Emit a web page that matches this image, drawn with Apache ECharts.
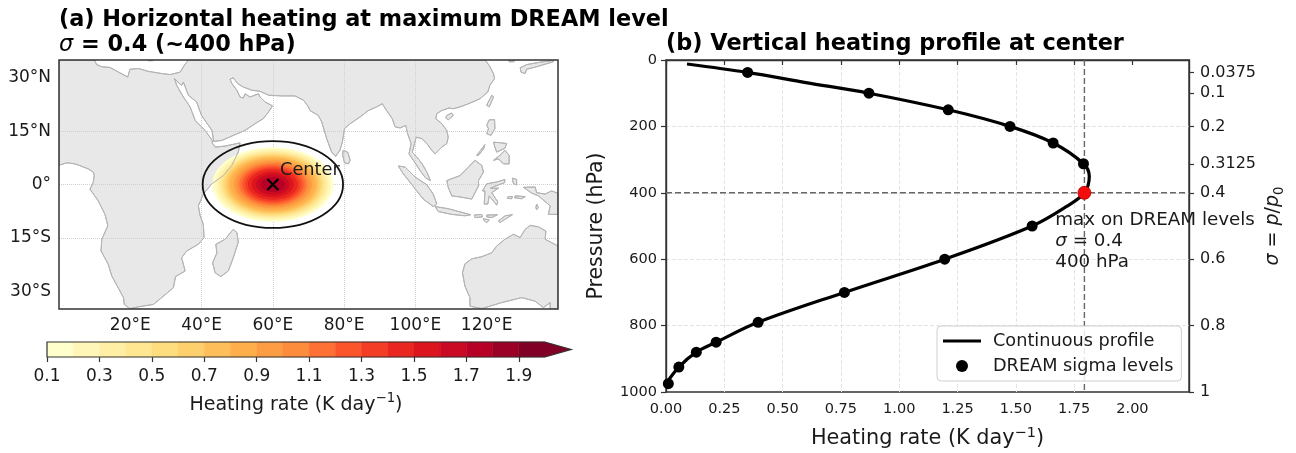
<!DOCTYPE html>
<html><head><meta charset="utf-8">
<style>html,body{margin:0;padding:0;background:#fff}#c{width:1296px;height:453px}</style>
<script src="https://cdn.jsdelivr.net/npm/echarts@6/dist/echarts.min.js"></script>
</head><body><div id="c"></div>
<script>
// ---------- map panel data (lon, lat) ----------
const africaEurasia = [[0,35],[10.1,35],[10.1,34.6],[10.6,33.7],[12,33.1],[14.3,32.9],[16.7,31.6],[19.3,30.2],[19.9,32.4],[22.3,32.6],[25.1,31.8],[28.8,31.2],[31.2,30.9],[34,31.6],[34.9,33.1],[36.3,35],[119.5,35],[120.7,33.5],[121.9,31.2],[122.2,29.8],[120.9,27.9],[120.3,26],[118.1,24.1],[114.9,22.7],[112.5,21.8],[110.6,21.3],[109.4,21.5],[107.4,20.8],[106,19.9],[105.7,18.5],[107.4,17.1],[108.8,15.2],[109.2,13.3],[108.8,11.5],[107.4,10.5],[105.5,8.6],[104.6,9.6],[103.2,11.5],[101.8,12.9],[100.2,13.3],[99.7,11.2],[99.1,9.1],[100.4,7.7],[101.9,5.8],[103.2,3.5],[104.2,1.1],[102.9,1.8],[101.3,3.9],[99.9,6.1],[98.2,8.6],[98.8,11.5],[97.8,14.3],[97.3,16.6],[95.7,15.9],[94.3,16.2],[93.5,18.5],[91.9,20.8],[90.7,22.7],[89.1,21.8],[86.8,20.8],[84.5,19],[81.7,17.1],[80.1,15.7],[79.5,11.9],[78.8,9.6],[77.6,7.9],[76.5,9.1],[75.1,12.9],[73.7,17.6],[72.8,19.4],[70.4,20.8],[70,21.8],[68.6,23.7],[66.2,24.9],[62.5,24.9],[58.8,25.1],[56.4,26.2],[54.1,26.5],[51.7,27.4],[50.1,28.4],[48.9,30],[48,29.6],[48.5,28.4],[49.9,26.5],[50.8,24.6],[51.7,24.3],[52.2,25.5],[53.6,24.6],[56,25.5],[56.4,24.6],[57.8,23.2],[59.9,22.1],[58.8,20.4],[57.3,18.5],[55,17.1],[52.2,15.2],[48.9,13.8],[45.7,12.4],[43.3,12.1],[43.3,12.9],[42.9,15.2],[40,19.4],[38.6,23.2],[36.3,25.1],[34.9,28.8],[34.4,27.9],[33.7,28.4],[32.4,29.8],[33,27.9],[34.9,24.6],[36.8,21.8],[38.2,18],[41,15.2],[43,12.4],[43,11.7],[43.8,10.5],[46.6,10.8],[50.8,11.7],[50.3,9.1],[48.5,5.4],[46.1,2.5],[42.9,0.2],[40.5,-2.7],[39.1,-6],[39.6,-8.8],[40.5,-11.2],[40.7,-14.9],[39.1,-16.8],[35.8,-18.7],[34.4,-20.6],[35.4,-24.3],[32.7,-25.9],[32.1,-29],[28.8,-31.8],[26.5,-33.7],[22.3,-34.4],[19.9,-34.9],[18.3,-33.7],[18.1,-31.8],[14.8,-25.7],[13.8,-22.4],[11.8,-18.7],[12,-15.4],[13.7,-11.6],[12.9,-8.4],[11,-4.6],[8.7,-1.3],[9.6,0.6],[9.9,2.5],[9.6,3.5],[8.2,4.4],[4.5,5.8],[2.2,6.1],[0,5.4]];
const sriLanka = [[79.7,9.6],[81,9.1],[81.7,6.8],[81.2,5.8],[80.1,6.1],[79.6,8.2]];
const madagascar = [[48.9,-12.6],[49.9,-13.5],[50.3,-16.2],[48.9,-20.6],[47.5,-24.3],[45.4,-25.9],[43.8,-24.8],[43.1,-22],[44.3,-19.2],[44,-16.8],[46.6,-15.4]];
const australia = [[140,-17.3],[136.4,-15.4],[136.6,-13.1],[134.5,-11.9],[132.2,-11.5],[130.8,-12.6],[129.4,-14.9],[127.5,-14],[125.1,-15.4],[122.8,-17.3],[121.4,-19.2],[118.6,-20.3],[115.8,-20.9],[113.9,-22.3],[113.2,-24.8],[113.9,-28.6],[115.3,-31.8],[115.3,-34.2],[118.6,-34.9],[124.2,-33.2],[129.8,-31.8],[133.6,-32.8],[135.9,-34.6],[137.8,-33.2],[137.8,-35],[140,-35]];
const sumatra = [[95.2,5.2],[97.1,4.9],[99.9,2.1],[103.2,-0.1],[105,-2.7],[106,-5.5],[105,-6.2],[102.2,-4.1],[98.9,0.1],[96.6,3]];
const java = [[105.5,-6.2],[109.2,-6.8],[112.5,-7.7],[115.5,-8.5],[113.9,-8.8],[110.2,-8.4],[106.4,-7.6]];
const lombok = [[116.5,-8.6],[118.6,-8.4],[118.8,-9.1],[116.7,-9.3]];
const flores = [[120,-8.6],[123,-8.5],[121.4,-9.3],[120,-9.1]];
const sumba = [[119.1,-9.6],[120.7,-10],[120,-10.7],[119.1,-10]];
const timor = [[123.3,-10.2],[125.2,-8.8],[127.2,-8.5],[125.1,-9.8],[123.7,-10.7]];
const borneo = [[108.8,1.1],[112.5,2.5],[114.9,4.9],[116.7,6.8],[118.6,5.4],[119.1,3.5],[117.7,1.1],[117.7,-0.4],[115.8,-4.1],[112.5,-3.5],[110.2,-3.2],[109.2,-0.8]];
const sulawesi = [[120,0.2],[122.8,0.7],[125.1,1.4],[125,0.5],[122.3,-0.5],[121,-1.1],[123.3,-1],[121.4,-2.3],[123.1,-4.9],[122.8,-5.8],[120.7,-3.2],[120.3,-5.5],[119.3,-5.5],[119.5,-1.8],[118.8,-1.8]];
const newGuinea = [[130.3,-0.8],[133.6,-0.7],[134,-2.3],[136.4,-2.7],[138.2,-1.8],[140,-2.5],[140,-8.4],[137.3,-8.4],[137.8,-6],[134.5,-3.2],[132.6,-2.4]];
const buru = [[126,-3.4],[127.2,-3.4],[127,-4],[125.8,-3.9]];
const ceram = [[128,-3.2],[130.8,-3.4],[129.8,-4],[127.8,-3.7]];
const aru = [[134,-5.5],[134.5,-6.5],[134,-7.1],[133.8,-6.5]];
const halmahera = [[127.2,1.8],[128.4,1.4],[128.4,-0.1],[127.5,0.2]];
const luzon = [[120,16.6],[120.7,18.2],[122.2,18.2],[122.3,15.7],[121.2,13.8],[120,14.3],[120.5,15.7]];
const mindanao = [[123.7,8.2],[125.1,9.6],[126.3,8.2],[126.3,5.8],[124.7,5.8],[123.3,7.2],[121.9,6.8]];
const visayas = [[121.9,11.9],[124.2,11.7],[125.6,11.5],[125.1,10.2],[122.8,9.1],[122.3,10.5]];
const palawan = [[117.2,8.2],[119.5,11.2],[119.1,10],[117.7,8.2]];
const taiwan = [[121.4,25.1],[121.9,24.6],[120.7,21.8],[120,22.3]];
const hainan = [[108.8,19.4],[110.2,20.1],[110.6,19.4],[109.2,18.2],[108.5,18.7]];
const japan = [[129.4,32.8],[131.2,33.7],[134.5,34.3],[138.7,34.9],[138.7,34.5],[133.6,33],[131.2,32.4],[130.8,31.2],[129.6,31.6]];
const korea = [[126.1,34.9],[128,34.9],[127.5,34.5],[126.3,34.5]];
const crete = [[24.9,35],[26.5,35],[26.2,34.8],[25,34.8]];
const landPolygons = [africaEurasia,sriLanka,madagascar,australia,sumatra,java,lombok,flores,sumba,timor,borneo,sulawesi,newGuinea,buru,ceram,aru,halmahera,luzon,mindanao,visayas,palawan,taiwan,hainan,japan,korea,crete];

const lonTicks = [20,40,60,80,100,120];
const latTicks = [-30,-15,0,15,30];
const heatCenter = [60,0];
const outlineRadii = [19.7,12.2];
// contour level boundaries, colours and half widths of each filled contour
const heatLevels = [0.1,0.2,0.3,0.4,0.5,0.6,0.7,0.8,0.9,1.0,1.1,1.2,1.3,1.4,1.5,1.6,1.7];
const heatLonRadius = [17,16.2,15.4,14.7,14.1,13.5,12.8,12,11,10.2,9.4,8.6,7.8,7,5.9,4.7,3.4];
const heatLatRadius = [10.5,10,9.5,9.1,8.7,8.3,7.9,7.4,6.8,6.3,5.8,5.3,4.8,4.3,3.6,2.9,2.1];
const binColors = ['#ffffcc','#fff6b8','#ffefa5','#ffe792','#fedd7f','#fed06d','#febf5a','#feae4a','#fd9d43','#fd8d3c','#fd7134','#fc552c','#f43d25','#e9261f','#db141e','#ca0923','#b60026','#9b0026','#800026'];
const binStarts = [0.1,0.2,0.3,0.4,0.5,0.6,0.7,0.8,0.9,1.0,1.1,1.2,1.3,1.4,1.5,1.6,1.7,1.8,1.9];
const colorbarTicks = [0.1,0.3,0.5,0.7,0.9,1.1,1.3,1.5,1.7,1.9];
const colorbarMax = 2.0, colorbarTip = 2.1;

// ---------- profile panel data ----------
const profileHeating = [0.09,0.35,0.6,0.87,1.21,1.475,1.66,1.79,1.815,1.794,1.72,1.57,1.195,0.765,0.395,0.215,0.13,0.055,0.0];
const profilePressure = [12,37.5,68,100,150,200,250,312.5,350,400,440,500,600,700,790,850,880,925,975];
const dreamHeating = [0.35,0.87,1.21,1.475,1.66,1.79,1.57,1.195,0.765,0.395,0.215,0.13,0.055,0.01];
const dreamPressure = [37.5,100,150,200,250,312.5,500,600,700,790,850,880,925,975];
const maxHeating = 1.794, maxPressure = 400, maxSigma = 0.4;
const heatingTicks = [0,0.25,0.5,0.75,1,1.25,1.5,1.75,2];
const heatingLimit = 2.2425;
const sigmaTicks = [0.0375,0.1,0.2,0.3125,0.4,0.6,0.8,1];

// ---------- helpers ----------
const FONT = '"DejaVu Sans"';
const INK = '#1a1a1a';
const pairs = (a,b)=>a.map((v,i)=>[v,b[i]]);
const polyShape = (pts,api)=>({points:pts.map(p=>api.coord(p))});
const axisText = {fontFamily:FONT,fontSize:17,color:INK};
const nameRich = size=>({
  fontFamily:FONT,fontSize:size,color:INK,lineHeight:26,
  rich:{
    n:{fontFamily:FONT,fontSize:size,color:INK,lineHeight:26},
    sup:{fontFamily:FONT,fontSize:size*0.7,color:INK,lineHeight:14,verticalAlign:'top'},
    i:{fontFamily:FONT,fontSize:size,fontStyle:'italic',color:INK,lineHeight:26},
    sub:{fontFamily:FONT,fontSize:size*0.7,color:INK,lineHeight:26,verticalAlign:'bottom'}
  }
});
const dotted = {show:true,showMinLine:false,showMaxLine:false,lineStyle:{color:'#cfcfcf',width:1,type:'dotted'}};
const dashed = {show:true,showMinLine:false,showMaxLine:false,lineStyle:{color:'#e4e4e4',width:1,type:'dashed'}};

const option = {
  animation:false,
  backgroundColor:'#fff',
  title:[
    {left:59,top:7.5,padding:0,text:'(a) Horizontal heating at maximum DREAM level\n{i|σ} = 0.4 (~400 hPa)',
     textStyle:{fontFamily:FONT,fontSize:22.4,fontWeight:'bold',color:'#000',lineHeight:25,
       rich:{i:{fontFamily:FONT,fontSize:22.4,fontStyle:'italic',fontWeight:'normal',color:'#000',lineHeight:25}}}},
    {left:666,top:31.5,padding:0,text:'(b) Vertical heating profile at center',
     textStyle:{fontFamily:FONT,fontSize:22.4,fontWeight:'bold',color:'#000',lineHeight:25}}
  ],
  grid:[
    {left:59,top:60,width:499,height:249,outerBoundsMode:'none'},
    {left:47,top:342,width:498,height:15,outerBoundsMode:'none'},
    {left:666,top:60,width:523,height:332,show:true,borderColor:'#333',borderWidth:1.4,outerBoundsMode:'none'}
  ],
  xAxis:[
    {gridIndex:0,type:'value',min:0,max:140,z:2,
     axisLine:{show:false},
     axisTick:{show:false,customValues:lonTicks},
     axisLabel:{...axisText,margin:8,customValues:lonTicks,formatter:v=>v+'°E'},
     splitLine:dotted},
    {gridIndex:1,type:'value',min:0.1,max:colorbarMax,
     axisLine:{show:false},
     axisTick:{show:true,length:5,customValues:colorbarTicks,lineStyle:{color:'#333',width:1.2}},
     axisLabel:{...axisText,margin:11.5,customValues:colorbarTicks,formatter:v=>v.toFixed(1)},
     splitLine:{show:false},
     name:'{n|Heating rate (K day}{sup|−1}{n|)}',nameLocation:'middle',nameGap:35,nameTextStyle:nameRich(19)},
    {gridIndex:2,type:'value',min:0,max:heatingLimit,z:1,
     axisLine:{show:true,lineStyle:{color:'#333',width:1.4}},
     axisTick:{show:true,length:5,customValues:heatingTicks,lineStyle:{color:'#333',width:1.2}},
     axisLabel:{...axisText,fontSize:14.5,margin:10,customValues:heatingTicks,formatter:v=>v.toFixed(2)},
     splitLine:dashed,
     name:'{n|Heating rate (K day}{sup|−1}{n|)}',nameLocation:'middle',nameGap:34,nameTextStyle:nameRich(20.8)}
  ],
  yAxis:[
    {gridIndex:0,type:'value',min:-35,max:35,z:2,
     axisLine:{show:false},
     axisTick:{show:false,customValues:latTicks},
     axisLabel:{...axisText,margin:8,customValues:latTicks,
       formatter:v=>v===0?'0°':Math.abs(v)+(v>0?'°N':'°S')},
     splitLine:dotted},
    {gridIndex:1,type:'value',min:0,max:1,show:false},
    {gridIndex:2,type:'value',min:0,max:1000,interval:200,inverse:true,z:1,
     axisLine:{show:true,lineStyle:{color:'#333',width:1.4}},
     axisTick:{show:true,length:5,lineStyle:{color:'#333',width:1.2}},
     axisLabel:{...axisText,fontSize:14.5,margin:9,formatter:v=>String(v)},
     splitLine:dashed,
     name:'Pressure (hPa)',nameLocation:'middle',nameGap:59,nameTextStyle:{fontFamily:FONT,fontSize:20.5,color:INK}},
    {gridIndex:2,type:'value',min:0,max:1,inverse:true,position:'right',z:1,
     axisLine:{show:true,lineStyle:{color:'#333',width:1.4}},
     axisTick:{show:true,length:5,customValues:sigmaTicks,lineStyle:{color:'#333',width:1.2}},
     axisLabel:{...axisText,fontSize:16,margin:11,customValues:sigmaTicks,formatter:v=>String(v)},
     splitLine:{show:false},
     name:'{i|σ} {n|=} {i|p}{n|/}{i|p}{sub|0}',nameLocation:'middle',nameGap:71,nameRotate:90,nameTextStyle:nameRich(19)}
  ],
  legend:{
    data:[{name:'Continuous profile',icon:'path://M0 0H38V3H0Z'},{name:'DREAM sigma levels'}],
    left:937,top:326,orient:'vertical',z:20,
    itemWidth:38,itemHeight:12,itemGap:7,padding:[6,8,6,6],
    backgroundColor:'rgba(255,255,255,0.85)',borderColor:'#cfcfcf',borderWidth:1,borderRadius:4,
    textStyle:{fontFamily:FONT,fontSize:17.7,color:INK,padding:[0,0,0,7]}
  },
  series:[
    // land fill
    {type:'custom',xAxisIndex:0,yAxisIndex:0,z:1,silent:true,clip:true,
     data:landPolygons.map((p,i)=>[i]),
     renderItem:(params,api)=>({type:'polygon',shape:polyShape(landPolygons[params.dataIndex],api),
       style:{fill:'#e8e8e8',stroke:'#b4b4b4',lineWidth:1}})},
    // filled heating contours
    {type:'custom',xAxisIndex:0,yAxisIndex:0,z:3,silent:true,clip:true,
     data:heatLevels.map((l,i)=>[heatCenter[0],heatCenter[1],l]),
     renderItem:(params,api)=>{
       const i=params.dataIndex, c=api.coord(heatCenter), s=api.size([heatLonRadius[i],heatLatRadius[i]]);
       return {type:'ellipse',shape:{cx:c[0],cy:c[1],rx:s[0],ry:s[1]},style:{fill:binColors[i],stroke:null}};
     }},
    // coastline on top of field
    {type:'custom',xAxisIndex:0,yAxisIndex:0,z:4,silent:true,clip:true,
     data:landPolygons.map((p,i)=>[i]),
     renderItem:(params,api)=>({type:'polygon',shape:polyShape(landPolygons[params.dataIndex],api),
       style:{fill:null,stroke:'#b4b4b4',lineWidth:1}})},
    // outer ellipse
    {type:'custom',xAxisIndex:0,yAxisIndex:0,z:5,silent:true,
     data:[[heatCenter[0],heatCenter[1]]],
     renderItem:(params,api)=>{
       const c=api.coord(heatCenter), s=api.size(outlineRadii);
       return {type:'ellipse',shape:{cx:c[0],cy:c[1],rx:s[0],ry:s[1]},style:{fill:null,stroke:'#111',lineWidth:1.8}};
     }},
    // center marker
    {type:'scatter',xAxisIndex:0,yAxisIndex:0,z:6,silent:true,
     data:[heatCenter],symbol:'path://M0 0L10 10M0 10L10 0',symbolSize:11,
     itemStyle:{color:'none',borderColor:'#000',borderWidth:2.2,opacity:1}},
    {type:'scatter',xAxisIndex:0,yAxisIndex:0,z:7,silent:true,
     data:[[62,3.9]],symbolSize:0,itemStyle:{opacity:1},
     label:{show:true,position:'right',distance:0,formatter:'Center',fontFamily:FONT,fontSize:17.8,color:INK}},
    // frame of map
    {type:'custom',xAxisIndex:0,yAxisIndex:0,z:8,silent:true,
     data:[[0]],
     renderItem:(params,api)=>{
       const a=api.coord([0,35]), b=api.coord([140,-35]);
       return {type:'rect',shape:{x:a[0],y:a[1],width:b[0]-a[0],height:b[1]-a[1]},style:{fill:null,stroke:'#333',lineWidth:1.5}};
     }},
    // colour bar
    {type:'custom',xAxisIndex:1,yAxisIndex:1,z:3,silent:true,
     data:binStarts.map(b=>[b]),
     renderItem:(params,api)=>{
       const i=params.dataIndex, lo=binStarts[i], hi=i+1<binStarts.length?binStarts[i+1]:colorbarMax;
       return {type:'polygon',shape:{points:[api.coord([lo,0]),api.coord([hi,0]),api.coord([hi,1]),api.coord([lo,1])]},
         style:{fill:binColors[i],stroke:binColors[i],lineWidth:0.5}};
     }},
    {type:'custom',xAxisIndex:1,yAxisIndex:1,z:4,silent:true,
     data:[[0]],
     renderItem:(params,api)=>({type:'polygon',
       shape:{points:[[colorbarMax,0],[colorbarTip,0.5],[colorbarMax,1]].map(p=>api.coord(p))},
       style:{fill:binColors[binColors.length-1],stroke:null}})},
    {type:'custom',xAxisIndex:1,yAxisIndex:1,z:5,silent:true,
     data:[[0]],
     renderItem:(params,api)=>({type:'polygon',
       shape:{points:[[0.1,0],[colorbarMax,0],[colorbarTip,0.5],[colorbarMax,1],[0.1,1]].map(p=>api.coord(p))},
       style:{fill:null,stroke:'#333',lineWidth:1.2}})},
    // reference lines
    {type:'line',xAxisIndex:2,yAxisIndex:3,z:3,silent:true,showSymbol:false,
     data:[[0,maxSigma],[heatingLimit,maxSigma]],
     lineStyle:{color:'#666',width:1.4,type:[6,3]}},
    {type:'line',xAxisIndex:2,yAxisIndex:2,z:3,silent:true,showSymbol:false,
     data:[[maxHeating,0],[maxHeating,1000]],
     lineStyle:{color:'#666',width:1.4,type:[6,3]}},
    // profile
    {name:'Continuous profile',type:'line',xAxisIndex:2,yAxisIndex:2,z:4,silent:true,
     data:pairs(profileHeating,profilePressure),symbol:'none',smooth:0.35,
     lineStyle:{color:'#000',width:3.2},itemStyle:{color:'#000'}},
    {name:'DREAM sigma levels',type:'scatter',xAxisIndex:2,yAxisIndex:2,z:5,silent:true,
     data:pairs(dreamHeating,dreamPressure),symbol:'circle',symbolSize:11,clip:false,
     itemStyle:{color:'#000',opacity:1}},
    {type:'scatter',xAxisIndex:2,yAxisIndex:2,z:6,silent:true,
     data:[[maxHeating,maxPressure]],symbol:'circle',symbolSize:13,
     itemStyle:{color:'#f50d0d',borderColor:'#b00000',borderWidth:0.8,opacity:1}},
    // annotation
    {type:'scatter',xAxisIndex:2,yAxisIndex:2,z:7,silent:true,clip:false,
     data:[[1.669,545]],symbolSize:0,itemStyle:{opacity:1},
     label:{show:true,position:'right',distance:0,align:'left',
       formatter:'{n|max on DREAM levels}\n{i|σ}{n| = 0.4}\n{n|400 hPa}',
       rich:{n:{fontFamily:FONT,fontSize:18.3,color:INK,lineHeight:21},
             i:{fontFamily:FONT,fontSize:18.3,fontStyle:'italic',color:INK,lineHeight:21}}}}
  ]
};
const chart = echarts.init(document.getElementById('c'),null,{renderer:'canvas'});
chart.setOption(option);
</script>
</body></html>
